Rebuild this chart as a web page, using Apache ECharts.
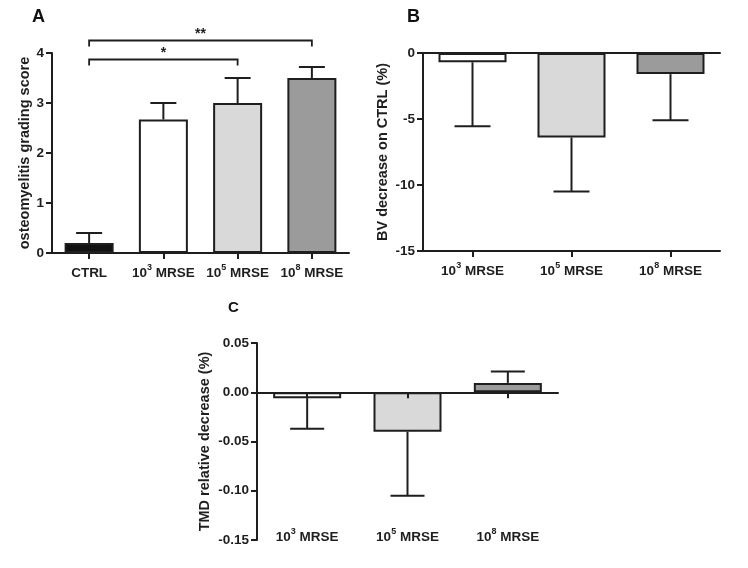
<!DOCTYPE html>
<html>
<head>
<meta charset="utf-8">
<script src="https://cdn.jsdelivr.net/npm/echarts@6/dist/echarts.min.js"></script>
<style>
  html, body { margin: 0; padding: 0; background: #fff; }
  #main { width: 748px; height: 568px; }
</style>
</head>
<body>
<div id="main"></div>
<script>
// ---------- data ----------
const categoriesA = ['CTRL', '10^3 MRSE', '10^5 MRSE', '10^8 MRSE'];
const meanA = [0.2, 2.67, 3.0, 3.5];
const semA = [0.2, 0.33, 0.5, 0.22];
const colorsA = ['#111111', '#ffffff', '#d9d9d9', '#9b9b9b'];
const yRangeA = [0, 4, 1];

const sigPairs = [[0, 2], [0, 3]];
const sigHeights = [3.87, 4.25];
const sigLabels = ['*', '**'];

const categoriesBC = ['10^3 MRSE', '10^5 MRSE', '10^8 MRSE'];
const colorsBC = ['#ffffff', '#d9d9d9', '#9b9b9b'];
const meanB = [-0.7, -6.4, -1.6];
const semB = [4.85, 4.1, 3.5];
const yRangeB = [-15, 0, 5];

const meanC = [-0.006, -0.040, 0.0095];
const semC = [0.031, 0.065, 0.0115];
const yRangeC = [-0.15, 0.05, 0.05];

const titleA = 'osteomyelitis grading score';
const titleB = 'BV decrease on CTRL (%)';
const titleC = 'TMD relative decrease (%)';

// ---------- styling ----------
const FONT = '"Liberation Sans", Arial, sans-serif';
const INK = '#1e1e1e';
const richLabel = {
  b: { fontFamily: FONT, fontSize: 13.5, fontWeight: 'bold', color: INK, lineHeight: 20 },
  s: { fontFamily: FONT, fontSize: 9, fontWeight: 'bold', color: INK, lineHeight: 10, verticalAlign: 'top' }
};
function fmtCat(s) {
  const m = s.match(/^(\d+)\^(\d+)(.*)$/);
  if (!m) return '{b|' + s + '}';
  return '{b|' + m[1] + '}{s|' + m[2] + '}{b|' + m[3] + '}';
}
const axisLineStyle = { color: INK, width: 2 };

function catAxis(grid, cats, extra) {
  return Object.assign({
    type: 'category', gridIndex: grid, data: cats,
    axisLine: { show: true, onZero: false, lineStyle: axisLineStyle },
    axisTick: { show: true, alignWithLabel: true, length: 6, lineStyle: axisLineStyle },
    axisLabel: { show: true, interval: 0, margin: 10, formatter: fmtCat, rich: richLabel },
    splitLine: { show: false }
  }, extra || {});
}
function valAxis(grid, range, name, gap, fmt) {
  return {
    type: 'value', gridIndex: grid, min: range[0], max: range[1], interval: range[2],
    name: name, nameLocation: 'middle', nameGap: gap, nameRotate: 90,
    nameTextStyle: { fontFamily: FONT, fontSize: 14.5, fontWeight: 'bold', color: INK },
    axisLine: { show: true, lineStyle: axisLineStyle },
    axisTick: { show: true, length: 6, lineStyle: axisLineStyle },
    axisLabel: { margin: 8, fontFamily: FONT, fontSize: 13.5, fontWeight: 'bold', color: INK,
      formatter: fmt || (v => String(Math.round(v))) },
    splitLine: { show: false }
  };
}
function barSeries(xi, yi, means, colors, width) {
  return {
    type: 'bar', xAxisIndex: xi, yAxisIndex: yi, barWidth: width, z: 2,
    data: means.map((v, i) => ({ value: v, itemStyle: { color: colors[i], borderColor: INK, borderWidth: 2 } })),
    animation: false
  };
}
function errSeries(xi, yi, means, sems, cap) {
  return {
    type: 'custom', xAxisIndex: xi, yAxisIndex: yi, z: 4, clip: false, animation: false,
    data: means.map((m, i) => [i, m, sems[i]]),
    encode: { x: 0, y: 1 },
    renderItem: function (params, api) {
      const i = api.value(0), m = api.value(1), e = api.value(2);
      const d = m >= 0 ? 1 : -1;
      const a = api.coord([i, m]);
      const b = api.coord([i, m + d * e]);
      const st = { stroke: INK, lineWidth: 2 };
      return { type: 'group', children: [
        { type: 'line', shape: { x1: a[0], y1: a[1], x2: b[0], y2: b[1] }, style: st },
        { type: 'line', shape: { x1: b[0] - cap / 2, y1: b[1], x2: b[0] + cap / 2, y2: b[1] }, style: st }
      ]};
    }
  };
}

const option = {
  backgroundColor: '#ffffff',
  animation: false,
  title: [
    { text: 'A', left: 32, top: 8, padding: 0, textStyle: { fontFamily: FONT, fontSize: 18, fontWeight: 'bold', color: '#111' } },
    { text: 'B', left: 407, top: 8, padding: 0, textStyle: { fontFamily: FONT, fontSize: 18, fontWeight: 'bold', color: '#111' } },
    { text: 'C', left: 228, top: 300, padding: 0, textStyle: { fontFamily: FONT, fontSize: 15, fontWeight: 'bold', color: '#111' } }
  ],
  grid: [
    { left: 52, top: 53, width: 297, height: 200 },
    { left: 423, top: 53, width: 297, height: 198 },
    { left: 257, top: 343, width: 301, height: 197 }
  ],
  xAxis: [
    catAxis(0, categoriesA, { position: 'bottom' }),
    catAxis(1, categoriesBC, { position: 'bottom' }),
    catAxis(1, categoriesBC, { position: 'top', axisTick: { show: false }, axisLabel: { show: false } }),
    catAxis(2, categoriesBC, { position: 'bottom', z: 5,
      axisLine: { show: true, onZero: true, lineStyle: axisLineStyle },
      axisLabel: { show: false } }),
    catAxis(2, categoriesBC, { position: 'bottom',
      axisLine: { show: false, onZero: false }, axisTick: { show: false },
      axisLabel: { show: true, interval: 0, margin: -13, formatter: fmtCat, rich: richLabel } })
  ],
  yAxis: [
    valAxis(0, yRangeA, titleA, 20),
    valAxis(1, yRangeB, titleB, 33),
    valAxis(2, yRangeC, titleC, 45, v => v.toFixed(2))
  ],
  series: [
    barSeries(0, 0, meanA, colorsA, 49),
    errSeries(0, 0, meanA, semA, 26),
    {
      type: 'custom', xAxisIndex: 0, yAxisIndex: 0, z: 4, clip: false, animation: false,
      data: sigPairs.map((p, i) => [p[0], p[1], sigHeights[i]]),
      encode: { x: [0, 1], y: 2 },
      renderItem: function (params, api) {
        const a = api.coord([api.value(0), api.value(2)]);
        const b = api.coord([api.value(1), api.value(2)]);
        const st = { stroke: INK, lineWidth: 1.8, fill: 'none' };
        return { type: 'group', children: [
          { type: 'polyline', shape: { points: [[a[0], a[1] + 6], [a[0], a[1]], [b[0], a[1]], [b[0], a[1] + 6]] }, style: st },
          { type: 'text', style: { text: sigLabels[params.dataIndex], x: (a[0] + b[0]) / 2, y: a[1] + 1,
              align: 'center', verticalAlign: 'bottom', font: 'bold 14px ' + FONT, fill: INK } }
        ]};
      }
    },
    barSeries(1, 1, meanB, colorsBC, 68),
    errSeries(1, 1, meanB, semB, 36),
    barSeries(3, 2, meanC, colorsBC, 68),
    errSeries(3, 2, meanC, semC, 34)
  ]
};

const chart = echarts.init(document.getElementById('main'), null, { renderer: 'canvas' });
chart.setOption(option);
</script>
</body>
</html>
